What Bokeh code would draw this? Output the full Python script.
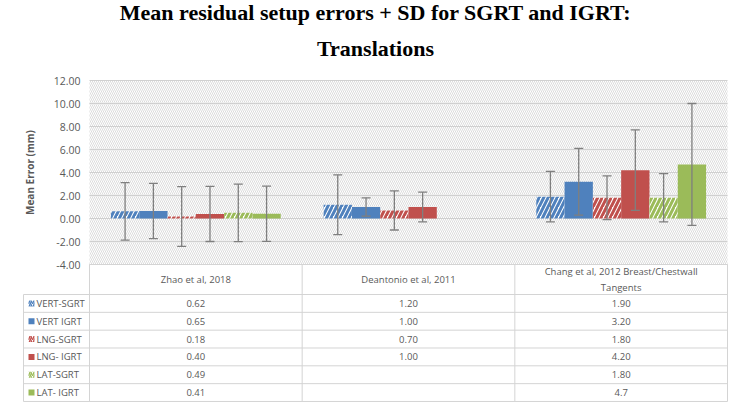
import math
from bokeh.plotting import figure
from bokeh.models import (Range1d, LinearAxis, FixedTicker, PrintfTickFormatter,
                          ColumnDataSource, Whisker, TeeHead, Title)
from bokeh.core.properties import value
from bokeh.embed import file_html
from bokeh.resources import INLINE

nan = float("nan")

# ---------------- data ----------------
groups = ["Zhao et al, 2018", "Deantonio et al, 2011",
          "Chang et al, 2012 Breast/Chestwall\nTangents"]
series = ["VERT-SGRT", "VERT IGRT", "LNG-SGRT", "LNG- IGRT", "LAT-SGRT", "LAT- IGRT"]

vert_sgrt = [0.62, 1.20, 1.90]
vert_igrt = [0.65, 1.00, 3.20]
lng_sgrt = [0.18, 0.70, 1.80]
lng_igrt = [0.40, 1.00, 4.20]
lat_sgrt = [0.49, nan, 1.80]
lat_igrt = [0.41, nan, 4.7]

vert_sgrt_sd = [2.5, 2.6, 2.2]
vert_igrt_sd = [2.4, 0.8, 2.9]
lng_sgrt_sd = [2.6, 1.7, 1.9]
lng_igrt_sd = [2.4, 1.3, 3.5]
lat_sgrt_sd = [2.5, nan, 2.1]
lat_igrt_sd = [2.4, nan, 5.3]

vert_sgrt_lbl = ["0.62", "1.20", "1.90"]
vert_igrt_lbl = ["0.65", "1.00", "3.20"]
lng_sgrt_lbl = ["0.18", "0.70", "1.80"]
lng_igrt_lbl = ["0.40", "1.00", "4.20"]
lat_sgrt_lbl = ["0.49", "", "1.80"]
lat_igrt_lbl = ["0.41", "", "4.7"]

y_ticks = [-4, -2, 0, 2, 4, 6, 8, 10, 12]

title_line1 = "Mean residual setup errors + SD for SGRT and IGRT:"
title_line2 = "Translations"
y_label = "Mean Error (mm)"

BLUE, RED, GREEN = "#4F81BD", "#C0504D", "#9BBB59"
series_vals = [vert_sgrt, vert_igrt, lng_sgrt, lng_igrt, lat_sgrt, lat_igrt]
series_sds = [vert_sgrt_sd, vert_igrt_sd, lng_sgrt_sd, lng_igrt_sd, lat_sgrt_sd, lat_igrt_sd]
series_lbls = [vert_sgrt_lbl, vert_igrt_lbl, lng_sgrt_lbl, lng_igrt_lbl, lat_sgrt_lbl, lat_igrt_lbl]
series_colors = [BLUE, BLUE, RED, RED, GREEN, GREEN]
series_hatched = [True, False, True, False, True, False]

# ---------------- layout (canvas pixels) ----------------
W, H = 743, 410
frame_left, frame_right, frame_top, frame_bottom = 22, 728, 76, 402
plot_left, table_right = 89, 727
gw = (table_right - plot_left) / 3.0          # px per group
zero_px, ppu = 218.0, 11.5                      # y=0 pixel, px per unit
header_top, rows_top, row_h, table_bottom = 264, 294, 17.83, 401
legend_left = 23


def tx(px):
    return (px - plot_left) / gw


def ty(px):
    return table_bottom - px


x_range = Range1d(tx(frame_left), tx(frame_right))
y_range = Range1d((zero_px - frame_bottom) / ppu, (zero_px - frame_top) / ppu)

p = figure(width=W, height=H, output_backend="svg", toolbar_location=None,
           x_range=x_range, y_range=y_range,
           x_axis_location=None, y_axis_location=None,
           min_border_left=frame_left, min_border_right=W - frame_right,
           min_border_top=frame_top, min_border_bottom=H - frame_bottom,
           outline_line_color=None, background_fill_color="white",
           border_fill_color="white", title=title_line1)
p.grid.visible = False
p.extra_y_ranges = {"table": Range1d(ty(frame_bottom), ty(frame_top))}

p.title.text_font = "Liberation Serif"
p.title.text_font_size = "22px"
p.title.text_font_style = "bold"
p.title.align = "center"
p.title.text_color = "black"
p.title.standoff = -14
t2 = Title(text=title_line2, text_font="Liberation Serif", text_font_size="22px",
           text_font_style="bold", align="center", text_color="black", standoff=32)
p.add_layout(t2, "above")

# hatched plot area
p.quad(left=[0], right=[3], bottom=[y_ticks[0]], top=[y_ticks[-1]],
       fill_color="white", line_color=None, hatch_pattern="\\",
       hatch_color="#dcdcdc", hatch_scale=4, hatch_weight=1)
# gridlines
p.segment(x0=[0] * len(y_ticks), x1=[3] * len(y_ticks), y0=y_ticks, y1=y_ticks,
          line_color="#d0d0d0", line_width=1)

# y axis
yax = LinearAxis(fixed_location=0, ticker=FixedTicker(ticks=y_ticks),
                 formatter=PrintfTickFormatter(format="%.2f"),
                 bounds=(y_ticks[0], y_ticks[-1]), axis_label=y_label)
yax.axis_line_color = None
yax.major_tick_line_color = None
yax.minor_tick_line_color = None
yax.major_tick_out = 0
yax.major_tick_in = 0
yax.major_label_standoff = 9
yax.major_label_text_font = "Open Sans"
yax.major_label_text_font_size = "10.5px"
yax.major_label_text_color = "#595959"
yax.axis_label_text_font = "Open Sans"
yax.axis_label_text_font_size = "10px"
yax.axis_label_text_font_style = "bold"
yax.axis_label_text_color = "#595959"
yax.axis_label_standoff = 14
p.add_layout(yax, "left")

# bars
bar_w = 28.3 / gw
wx, wu, wl = [], [], []
for k in range(6):
    xs, tops = [], []
    for i in range(3):
        v = series_vals[k][i]
        if math.isnan(v):
            continue
        x = i + 0.5 + (k - 2.5) * bar_w
        xs.append(x)
        tops.append(v)
        sd = series_sds[k][i]
        wx.append(x)
        wu.append(v + sd)
        wl.append(v - sd)
    c = series_colors[k]
    if series_hatched[k]:
        p.vbar(x=xs, top=tops, bottom=0, width=bar_w, fill_color="white",
               line_color=None, hatch_pattern="/", hatch_color=c,
               hatch_scale=9, hatch_weight=3)
    else:
        p.vbar(x=xs, top=tops, bottom=0, width=bar_w, fill_color=c, line_color=None)

wsrc = ColumnDataSource(dict(x=wx, upper=wu, lower=wl))
ecol = "#7f7f7f"
whisk = Whisker(source=wsrc, base="x", upper="upper", lower="lower", dimension="height",
                line_color=ecol, line_width=1.3, level="overlay",
                upper_head=TeeHead(size=9, line_color=ecol, line_width=1.3),
                lower_head=TeeHead(size=9, line_color=ecol, line_width=1.3))
p.add_layout(whisk)

# ---------------- data table ----------------
lc = "#d4d4d4"
xl = tx(legend_left)
row_lines = [ty(rows_top + row_h * r) for r in range(7)]
p.segment(x0=[0], x1=[3], y0=[ty(header_top)], y1=[ty(header_top)],
          line_color=lc, y_range_name="table")
p.segment(x0=[xl] * 7, x1=[3] * 7, y0=row_lines, y1=row_lines,
          line_color=lc, y_range_name="table")
p.segment(x0=[xl], x1=[xl], y0=[ty(rows_top)], y1=[ty(table_bottom)],
          line_color=lc, y_range_name="table")
p.segment(x0=[0, 1, 2, 3], x1=[0, 1, 2, 3], y0=[ty(header_top)] * 4,
          y1=[ty(table_bottom)] * 4, line_color=lc, y_range_name="table")

txt_col = "#595959"
p.text(x=[i + 0.5 for i in range(3)], y=[ty((header_top + rows_top) / 2)] * 3, text=groups,
       text_font=value("Open Sans"), text_font_size="9.5px", text_color=txt_col,
       text_align="center", text_baseline="middle", text_line_height=1.3,
       y_range_name="table")

cx, cy, ct = [], [], []
for k in range(6):
    yc = ty(rows_top + row_h * (k + 0.5))
    for i in range(3):
        cx.append(i + 0.5)
        cy.append(yc)
        ct.append(series_lbls[k][i])
p.text(x=cx, y=cy, text=ct, text_font=value("Open Sans"), text_font_size="9.5px",
       text_color=txt_col, text_align="center", text_baseline="middle",
       y_range_name="table")

ly = [ty(rows_top + row_h * (k + 0.5)) for k in range(6)]
p.text(x=[tx(36)] * 6, y=ly, text=series, text_font=value("Open Sans"),
       text_font_size="9.5px", text_color=txt_col, text_align="left",
       text_baseline="middle", y_range_name="table")
for k in range(6):
    c = series_colors[k]
    if series_hatched[k]:
        p.rect(x=[tx(31)], y=[ly[k]], width=6, height=6, width_units="screen",
               height_units="screen", fill_color="white", line_color=None,
               hatch_pattern="/", hatch_color=c, hatch_scale=4, hatch_weight=1.5,
               y_range_name="table")
    else:
        p.rect(x=[tx(31)], y=[ly[k]], width=6, height=6, width_units="screen",
               height_units="screen", fill_color=c, line_color=None,
               y_range_name="table")

open("out.html", "w").write(file_html(p, INLINE))
